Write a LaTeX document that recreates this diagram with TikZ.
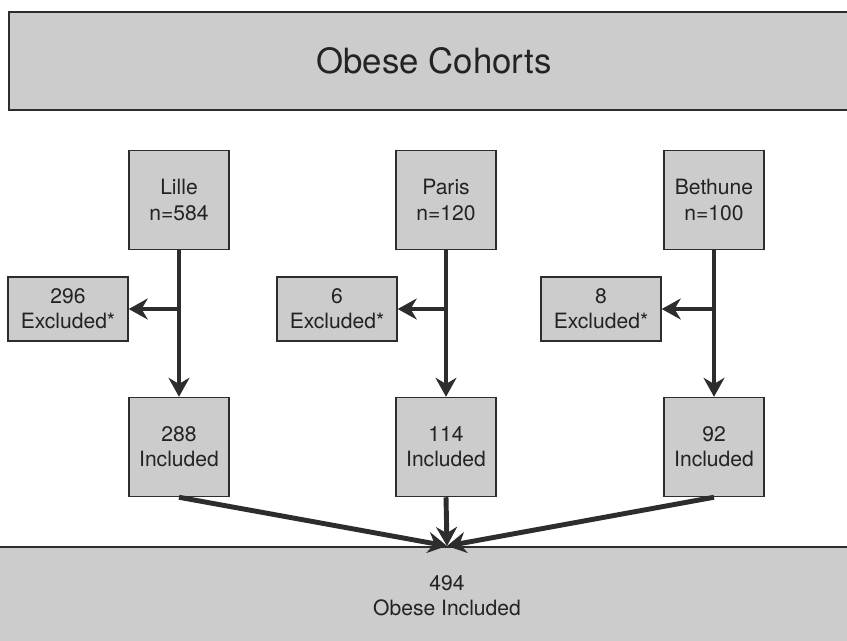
\documentclass[tikz,border=0pt]{standalone}
\usepackage{fontspec}
\setmainfont{TeX Gyre Heros}
\usetikzlibrary{arrows.meta,positioning}
\definecolor{boxfill}{RGB}{204,204,204}
\definecolor{boxline}{RGB}{45,45,45}
\definecolor{textgray}{RGB}{35,35,35}

\begin{document}
\begin{tikzpicture}[
    x=0.02cm, y=-0.02cm,
    box/.style={rectangle, draw=boxline, fill=boxfill, line width=0.85pt, align=center, text=textgray, inner sep=0pt, font=\fontsize{12}{14.4}\selectfont},
    sitebox/.style={box, minimum width=2cm, minimum height=1.98cm},
    excbox/.style={box, minimum width=2.4cm, minimum height=1.28cm},
    widebox/.style={box, line width=1.2pt, minimum height=1.96cm},
    arrow/.style={-{Stealth[length=0.38cm, width=0.42cm]}, line width=2.8pt, draw=boxline}
]

\clip (0,0) rectangle (847,640);

% Title
\node[widebox, minimum width=17cm, font=\fontsize{19.8}{23}\selectfont] (cohorts) at (434,61) {Obese Cohorts};

% Cohort sites
\node[sitebox] (lille) at (179,200) {Lille\\n=584};
\node[sitebox] (paris) at (446,200) {Paris\\n=120};
\node[sitebox] (bethune) at (714,200) {Bethune\\n=100};

% Exclusions
\node[excbox] (lille_exc) at (68,309) {296\\Excluded*};
\node[excbox] (paris_exc) at (337,309) {6\\Excluded*};
\node[excbox] (bethune_exc) at (601,309) {8\\Excluded*};

% Included per site
\node[sitebox] (lille_inc) at (179,447) {288\\Included};
\node[sitebox] (paris_inc) at (446,447) {114\\Included};
\node[sitebox] (bethune_inc) at (714,447) {92\\Included};

% Pooled
\node[widebox, minimum width=18cm] (pooled) at (447,596) {494\\Obese Included};

% Split points
\coordinate (lille_split) at (179,309);
\coordinate (paris_split) at (446,309);
\coordinate (bethune_split) at (714,309);

% Arrows - main flow
\draw[arrow] (lille) -- (lille_inc);
\draw[arrow] (paris) -- (paris_inc);
\draw[arrow] (bethune) -- (bethune_inc);

% Arrows - exclusions
\draw[arrow] (lille_split) -- (lille_exc.east);
\draw[arrow] (paris_split) -- (paris_exc.east);
\draw[arrow] (bethune_split) -- (bethune_exc.east);

% Arrows - pooling
\draw[arrow] (lille_inc.south) -- (pooled.north);
\draw[arrow] (paris_inc.south) -- (pooled.north);
\draw[arrow] (bethune_inc.south) -- (pooled.north);

\end{tikzpicture}
\end{document}
